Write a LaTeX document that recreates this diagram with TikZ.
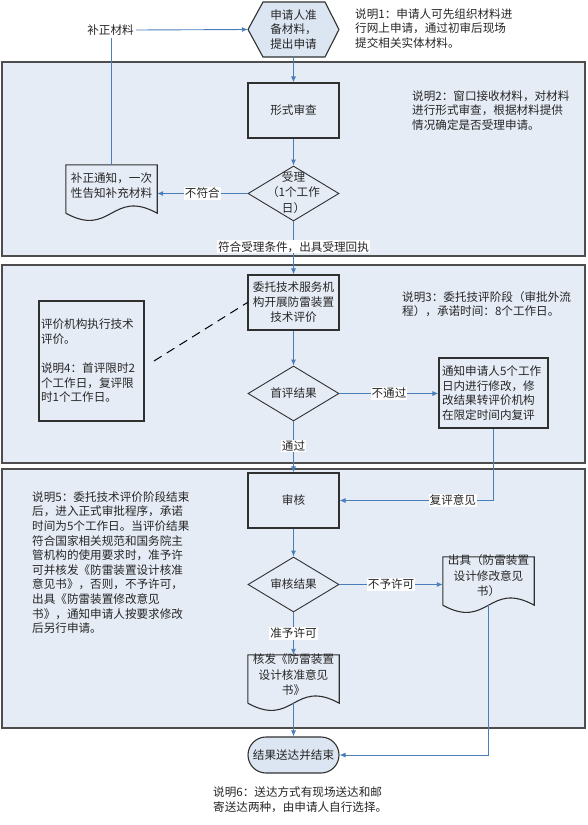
\documentclass[tikz,border=0pt]{standalone}
\usepackage{fontspec}
\setmainfont{Noto Sans CJK SC}
\usetikzlibrary{arrows.meta,calc,shapes.geometric}
\definecolor{bandfill}{HTML}{E6ECF6}
\definecolor{hexfill}{HTML}{DCE6F2}
\definecolor{bandline}{HTML}{4D4D4D}
\definecolor{shapeline}{HTML}{303030}
\definecolor{connblue}{HTML}{4A7EBB}
\definecolor{txtc}{HTML}{262626}
\tikzset{
  every node/.style={font=\fontsize{11.6}{14.6}\selectfont, text=txtc},
  band/.style={draw=bandline, line width=1.4pt, fill=bandfill},
  hexline/.style={draw=shapeline, line width=1.1pt, fill=hexfill},
  procbox/.style={draw=shapeline, line width=1.1pt, minimum width=91pt, minimum height=55pt, inner sep=0pt, align=center, font=\fontsize{11.6}{15}\selectfont},
  plainbox/.style={minimum width=91pt, minimum height=55pt, inner sep=0pt, align=center},
  decision/.style={shape=diamond, draw=shapeline, line width=0.9pt, minimum width=91pt, minimum height=55pt, inner sep=0pt},
  docnode/.style={minimum width=91pt, minimum height=48pt, inner sep=0pt},
  docline/.style={draw=shapeline, line width=1.1pt},
  intext/.style={align=center, inner sep=0pt, font=\fontsize{11.6}{15.5}\selectfont},
  note/.style={align=left, inner sep=0pt, anchor=west},
  notebox/.style={draw=shapeline, line width=1.1pt, minimum height=120pt, text width=101pt, inner xsep=2pt, align=left},
  infobox/.style={draw=shapeline, line width=1.1pt, minimum height=70pt, text width=103pt, inner xsep=3pt, align=left},
  term/.style={draw=shapeline, line width=1.1pt, fill=hexfill, minimum width=91pt, minimum height=36pt, rounded corners=18pt, inner sep=0pt},
  flow/.style={draw=connblue, line width=0.9pt, -{Latex[length=6pt,width=5pt]}},
  plainflow/.style={draw=connblue, line width=0.9pt},
  dashline/.style={draw=black, line width=1pt, dash pattern=on 9pt off 6pt},
  lab/.style={fill=white, inner sep=1pt}
}
\newcommand\docoutline[1]{\draw[docline] (#1.south west) -- (#1.north west) -- (#1.north east) -- (#1.south east) .. controls ([xshift=-45.5pt,yshift=25pt]#1.south east) and ([xshift=45.5pt,yshift=-25pt]#1.south west) .. (#1.south west);}
\begin{document}
\begin{tikzpicture}[x=1pt,y=-1pt]
\useasboundingbox (0,0) rectangle (587,825);
% bands
\draw[band] (2,62) rectangle (585,256);
\draw[band] (2,265) rectangle (585,463);
\draw[band] (2,469) rectangle (585,728);
% start hexagon
\draw[hexline] (248,29.5) -- (263,2) -- (325,2) -- (339,29.5) -- (325,57) -- (263,57) -- cycle;
\node[plainbox] (hex) at (293.5,29.5) {申请人准\\备材料，\\提出申请};
\node[inner sep=2pt] (bz) at (110.5,30) {补正材料};
\node[note] (n1) at (355,28.5) {说明1：申请人可先组织材料进\\行网上申请，通过初审后现场\\提交相关实体材料。};
% band 1
\node[procbox] (xs) at (293.5,110.5) {形式审查};
\node[note] (n2) at (412,110.5) {说明2：窗口接收材料，对材料\\进行形式审查，根据材料提供\\情况确定是否受理申请。};
\node[decision] (sl) at (293.5,193.5) {};
\node[intext] (slt) at (293.5,192.5) {受理\\（1个工作\\日）};
\node[docnode] (d1) at (111.5,189) {};
\docoutline{d1}
\node[intext] (d1t) at (111.5,185.5) {补正通知，一次\\性告知补充材料};
% band 2
\node[procbox] (wt) at (293.5,302.5) {委托技术服务机\\构开展防雷装置\\技术评价};
\node[note] (n3) at (402,304) {说明3：委托技评阶段（审批外流\\程），承诺时间：8个工作日。};
\node[notebox] (n4) at (91.5,361) {评价机构执行技术\\评价。\\[14.6pt]说明4：首评限时2\\个工作日，复评限\\时1个工作日。};
\coordinate (dsh) at (154,361);
\node[decision] (sp) at (293.5,393.5) {};
\node[intext] (spt) at (293.5,393.5) {首评结果};
\node[infobox] (tz) at (493.5,393) {通知申请人5个工作\\日内进行修改，修\\改结果转评价机构\\在限定时间内复评};
% band 3
\node[procbox] (sh) at (293.5,500.5) {审核};
\node[note] (n5) at (32,562.5) {说明5：委托技术评价阶段结束\\后，进入正式审批程序，承诺\\时间为5个工作日。当评价结果\\符合国家相关规范和国务院主\\管机构的使用要求时，准予许\\可并核发《防雷装置设计核准\\意见书》，否则，不予许可，\\出具《防雷装置修改意见\\书》，通知申请人按要求修改\\后另行申请。};
\node[decision] (shj) at (293.5,584.5) {};
\node[intext] (shjt) at (293.5,584.5) {审核结果};
\node[docnode] (d3) at (488.5,581) {};
\docoutline{d3}
\node[intext] (d3t) at (488.5,576) {出具（防雷装置\\设计修改意见\\书）};
\node[docnode] (d2) at (293.5,679) {};
\docoutline{d2}
\node[intext] (d2t) at (293.5,675) {核发《防雷装置\\设计核准意见\\书》};
% end
\node[term] (end) at (293.5,755) {结果送达并结束};
\node[note] (n6) at (213,799.5) {说明6：送达方式有现场送达和邮\\寄送达两种，由申请人自行选择。};
% connectors
\draw[flow] (bz.east) -- (hex.west);
\draw[plainflow] (d1.north) -- (d1.north |- bz.south);
\draw[flow] (hex.south) -- (xs.north);
\draw[flow] (xs.south) -- (sl.north);
\draw[flow] (sl.west) -- node[lab]{不符合} (sl.west -| d1.east);
\draw[flow] (sl.south) -- node[lab,pos=0.48]{符合受理条件，出具受理回执} (wt.north);
\draw[dashline] (dsh) -- (wt.west);
\draw[flow] (wt.south) -- (sp.north);
\draw[flow] (sp.east) -- node[lab]{不通过} (sp.east -| tz.west);
\draw[flow] (sp.south) -- node[lab,pos=0.48]{通过} (sh.north);
\draw[flow] (tz.south) |- node[lab,pos=0.632]{复评意见} (sh.east);
\draw[flow] (sh.south) -- (shj.north);
\draw[flow] (shj.east) -- node[lab]{不予许可} (shj.east -| d3.west);
\draw[flow] (shj.south) -- node[lab,pos=0.49]{准予许可} (d2.north);
\draw[flow] (d2.south) -- (end.north);
\draw[flow] (d3.south) |- (end.east);
\end{tikzpicture}
\end{document}
